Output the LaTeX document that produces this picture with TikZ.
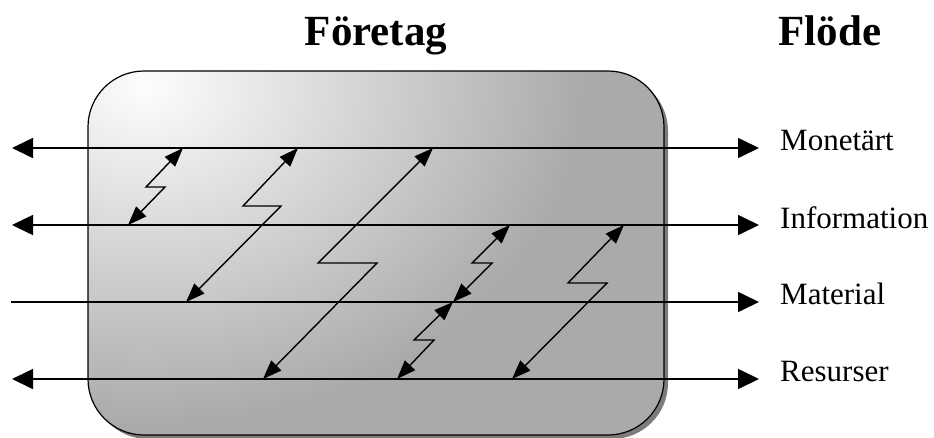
\documentclass[tikz,border=0pt]{standalone}
\usepackage{fontspec}
\setmainfont{Liberation Serif}
\usetikzlibrary{arrows.meta}
\definecolor{boxlight}{HTML}{FDFDFD}
\definecolor{boxgray}{HTML}{AAAAAA}
\definecolor{boxshadow}{HTML}{7C7C7C}
\begin{document}
\begin{tikzpicture}[x=1pt,y=-1pt,
  bigtip/.tip={Triangle[length=21pt,width=20pt]},
  smalltip/.tip={Triangle[length=19pt,width=14pt]},
  flowline/.style={line width=1.6pt},
  zigzag/.style={line width=1.4pt, smalltip-smalltip},
  headtext/.style={font=\fontsize{43}{50}\selectfont\bfseries, anchor=base, inner sep=0pt},
  flowlabel/.style={font=\fontsize{31}{36}\selectfont, anchor=base west, inner sep=0pt}]
\useasboundingbox (0,0) rectangle (934,437);

% company box: shadow, shaded body, outline
\fill[boxshadow, rounded corners=56pt] (92,75) rectangle (668,439);
\begin{scope}
  \clip[rounded corners=56pt] (88,71) rectangle (664,435);
  \fill[boxgray] (88,71) rectangle (664,435);
  \shade[inner color=boxlight, outer color=boxgray] (145,85) ellipse [x radius=440pt, y radius=340pt];
\end{scope}
\draw[line width=1.2pt, rounded corners=56pt] (88,71) rectangle (664,435);

% headings
\node[headtext] (hcomp) at (376,45) {Företag};
\node[headtext] (hflow) at (830,45) {Flöde};

% flow lines
\coordinate (mL) at (12,148);  \coordinate (mR) at (759,148);
\coordinate (iL) at (12,225);  \coordinate (iR) at (759,225);
\coordinate (tL) at (11,302);  \coordinate (tR) at (759,302);
\coordinate (rL) at (12,379);  \coordinate (rR) at (759,379);
\draw[flowline, bigtip-bigtip] (mL) -- (mR);
\draw[flowline, bigtip-bigtip] (iL) -- (iR);
\draw[flowline, -bigtip] (tL) -- (tR);
\draw[flowline, bigtip-bigtip] (rL) -- (rR);

% flow labels
\node[flowlabel] (lm) at (780,150) {Monetärt};
\node[flowlabel] (li) at (780,228) {Information};
\node[flowlabel] (lt) at (780,304) {Material};
\node[flowlabel] (lr) at (780,381) {Resurser};

% zigzag links between flows
\coordinate (a1) at (183,148); \coordinate (a2) at (146,187); \coordinate (a3) at (165,187); \coordinate (a4) at (128,225);
\coordinate (b1) at (298,148); \coordinate (b2) at (243,206); \coordinate (b3) at (281,206); \coordinate (b4) at (186,302);
\coordinate (c1) at (433,148); \coordinate (c2) at (318,263); \coordinate (c3) at (377,263); \coordinate (c4) at (263,379);
\coordinate (d1) at (510,225); \coordinate (d2) at (472,263); \coordinate (d3) at (492,263); \coordinate (d4) at (453,302);
\coordinate (e1) at (453,302); \coordinate (e2) at (414,340); \coordinate (e3) at (434,340); \coordinate (e4) at (397,379);
\coordinate (f1) at (624,225); \coordinate (f2) at (568,283); \coordinate (f3) at (607,283); \coordinate (f4) at (512,379);
\draw[zigzag] (a1) -- (a2) -- (a3) -- (a4);
\draw[zigzag] (b1) -- (b2) -- (b3) -- (b4);
\draw[zigzag] (c1) -- (c2) -- (c3) -- (c4);
\draw[zigzag] (d1) -- (d2) -- (d3) -- (d4);
\draw[zigzag] (e1) -- (e2) -- (e3) -- (e4);
\draw[zigzag] (f1) -- (f2) -- (f3) -- (f4);
\end{tikzpicture}
\end{document}
